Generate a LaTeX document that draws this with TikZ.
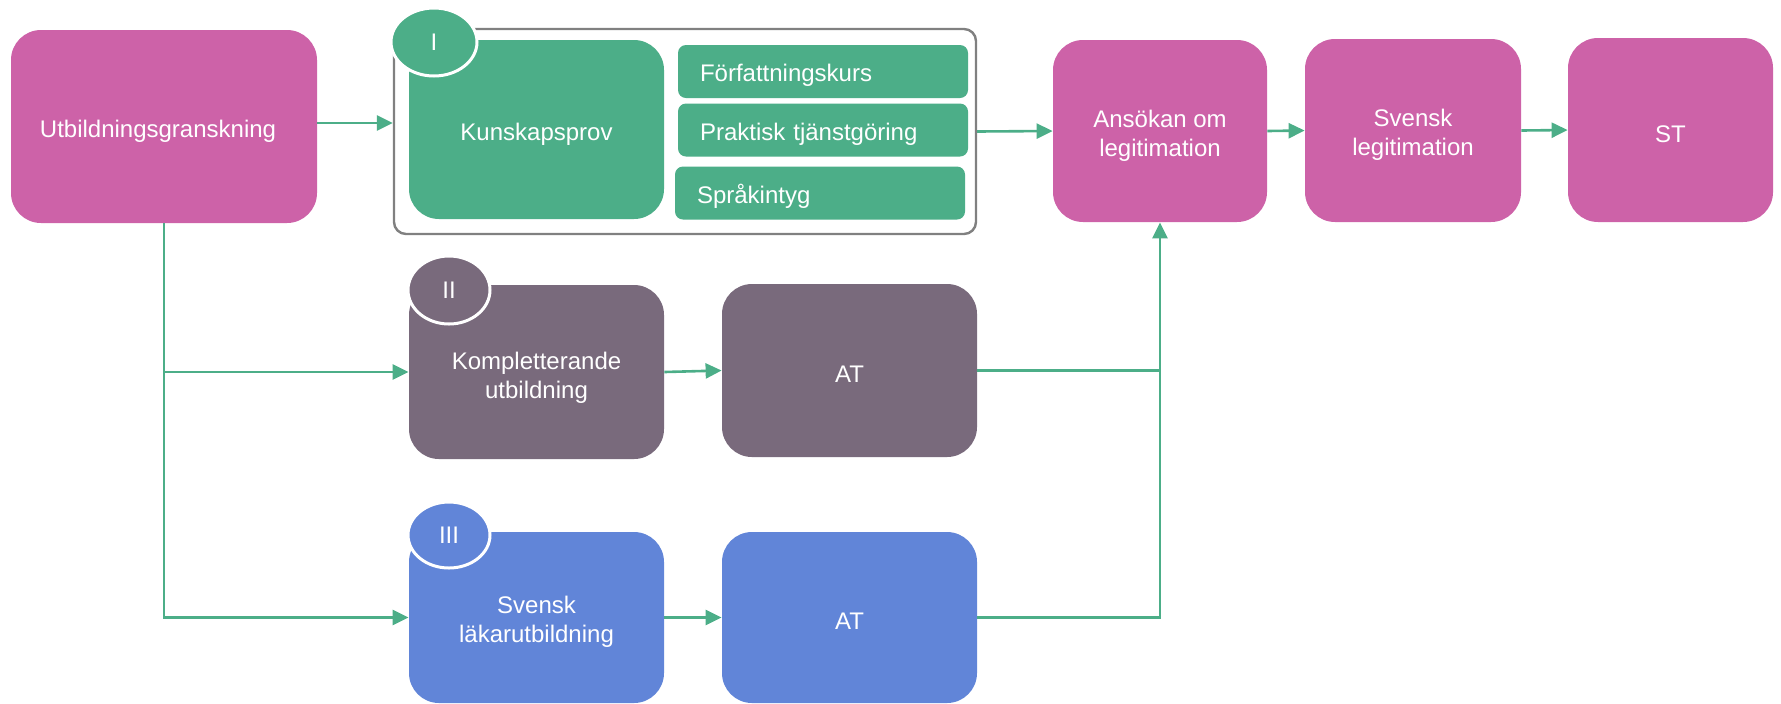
\documentclass[tikz,border=0pt]{standalone}
\usepackage{fontspec}
\setmainfont{Liberation Sans}
\usetikzlibrary{arrows.meta,shapes.geometric,calc}

\definecolor{rosa}{RGB}{205,98,168}
\definecolor{gron}{RGB}{76,174,136}
\definecolor{lila}{RGB}{121,106,124}
\definecolor{bla}{RGB}{97,133,216}
\definecolor{ram}{RGB}{128,128,128}

\newcommand{\lyft}{\rule{0pt}{13pt}}

\begin{document}
\begin{tikzpicture}[x=0.5pt,y=-0.5pt,
    box/.style={rounded corners=15pt,fill=#1,text=white,align=center,inner sep=0pt,
      font=\fontsize{12}{14.5}\selectfont},
    sub/.style={rounded corners=4pt,fill=gron,text=white,text width=123pt,align=left,
      inner xsep=11pt,inner ysep=0pt,minimum height=26.5pt,font=\fontsize{12}{14.5}\selectfont},
    badge/.style={ellipse,fill=#1,draw=white,line width=1.5pt,text=white,inner sep=0pt,
      minimum width=43pt,minimum height=34pt,font=\fontsize{12}{14.5}\selectfont},
    pil/.style={draw=gron,line width=1.3pt,-{Triangle[length=8pt,width=7.5pt]}},
    led/.style={draw=gron,line width=1.3pt}]

      \useasboundingbox (0,0) rectangle (1781,703);

      % track I
      \node[rounded corners=6pt,draw=ram,line width=1.2pt,fill=white,
        minimum width=291pt,minimum height=102.5pt] (ram) at (685,131.5) {};

      \node[box=rosa,minimum width=153pt,minimum height=96.5pt] (utb) at (164,126.5) {\lyft Utbildningsgranskning\hspace*{6pt}};
      \node[box=gron,minimum width=127.5pt,minimum height=89.5pt] (kunskap) at (536.5,129.5) {\lyft Kunskapsprov};
      \node[sub] (forf) at (823,71.5) {\rule{0pt}{12.5pt}Författningskurs};
      \node[sub] (prakt) at (823,130) {\rule{0pt}{12.5pt}Praktisk tjänstgöring};
      \node[sub] (sprak) at (820,193) {\rule{0pt}{12.5pt}Språkintyg};
      \node[badge=gron] (b1) at (434,42) {I};

      \node[box=rosa,minimum width=107pt,minimum height=91pt] (ansokan) at (1160,131) {\lyft Ansökan om\\legitimation};
      \node[box=rosa,minimum width=108pt,minimum height=91.5pt] (legit) at (1413,130.5) {\lyft Svensk\\legitimation};
      \node[box=rosa,minimum width=102.5pt,minimum height=92pt] (st) at (1670.5,130) {\lyft ST};

      % track II
      \node[box=lila,minimum width=127.5pt,minimum height=87pt] (kompl) at (536.5,372) {\rule{0pt}{14pt}Kompletterande\\utbildning};
      \node[badge=lila,minimum width=41pt] (b2) at (449,290) {II};
      \node[box=lila,minimum width=127.5pt,minimum height=86.5pt] (at2) at (849.5,370.5) {\rule{0pt}{12pt}AT};

      % track III
      \node[box=bla,minimum width=127.5pt,minimum height=85.5pt] (lakar) at (536.5,617.5) {\lyft Svensk\\läkarutbildning};
      \node[badge=bla,minimum width=41pt,minimum height=33pt] (b3) at (449,535) {III};
      \node[box=bla,minimum width=127.5pt,minimum height=85.5pt] (at3) at (849.5,617.5) {\rule{0pt}{12pt}AT};

      % connectors
      \draw[pil] (utb.east |- 0,123) -- (ram.west |- 0,123);
      \draw[pil] (ram.east) -- (ansokan.west);
      \draw[pil] (ansokan.east) -- (legit.west);
      \draw[pil] (legit.east) -- (st.west);

      \draw[pil] (utb.south) |- (lakar.west);
      \draw[pil] (utb.south |- kompl.west) -- (kompl.west);
      \draw[pil] (kompl.east) -- (at2.west);
      \draw[pil] (lakar.east) -- (at3.west);

      \draw[led] (at3.east) -| (ansokan.south |- at2.east);
      \draw[pil] (at2.east) -| (ansokan.south);

\end{tikzpicture}
\end{document}
